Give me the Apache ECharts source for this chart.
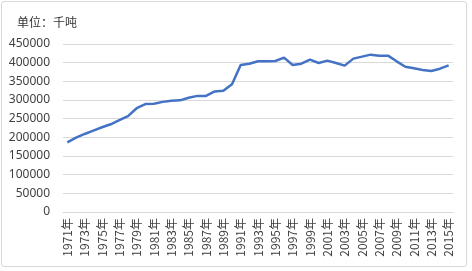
<!DOCTYPE html>
<html>
<head>
<meta charset="utf-8">
<script src="https://cdn.jsdelivr.net/npm/echarts@6/dist/echarts.min.js"></script>
<style>
  html, body { margin: 0; padding: 0; background: #fff; }
  #wrap { position: relative; width: 472px; height: 271px; }
  #frame { position: absolute; left: 1px; top: 1px; width: 466px; height: 266px;
           border: 1px solid #d9d9d9; border-radius: 3px; box-sizing: border-box; }
  #chart { position: absolute; left: 0; top: 0; width: 472px; height: 271px; }
</style>
</head>
<body>
<div id="wrap">
  <div id="frame"></div>
  <div id="chart"></div>
</div>
<script>
var years = [];
for (var y = 1971; y <= 2015; y++) years.push(y + '年');

var output = [
  186600, 199000, 209000, 218000, 227000, 235000, 246000, 257000, 278000, 289000,
  290000, 295000, 298000, 299000, 306000, 311000, 311000, 323000, 325000, 342000,
  394000, 397000, 403600, 404000, 404500, 413400, 393700, 397300, 408000, 399100,
  405400, 399100, 392000, 410800, 416100, 421500, 418800, 418800, 403600, 389200,
  384800, 380300, 377600, 383900, 392800
];

var unitText = '单位：千吨';

var myChart = echarts.init(document.getElementById('chart'));
var option = {
  animation: false,
  title: {
    text: unitText,
    left: 12,
    top: 11,
    textStyle: {
      fontFamily: 'Noto Sans CJK SC',
      fontSize: 12,
      fontWeight: 'normal',
      color: '#333'
    }
  },
  grid: {
    left: 63,
    right: 19,
    top: 44,
    bottom: 59
  },
  xAxis: {
    type: 'category',
    data: years,
    boundaryGap: true,
    axisLine: { lineStyle: { color: '#d9d9d9' } },
    axisTick: { show: false },
    axisLabel: {
      interval: 1,
      rotate: 90,
      margin: 6,
      fontSize: 12,
      color: '#404040',
      fontFamily: 'Noto Sans CJK SC'
    }
  },
  yAxis: {
    type: 'value',
    min: 0,
    max: 450000,
    interval: 50000,
    axisLine: { show: false },
    axisTick: { show: false },
    splitLine: { lineStyle: { color: '#d9d9d9', width: 1 } },
    axisLabel: {
      margin: 13,
      fontSize: 12,
      color: '#404040',
      fontFamily: 'Noto Sans',
      formatter: function (v) { return String(v); }
    }
  },
  series: [
    {
      type: 'line',
      data: output,
      showSymbol: false,
      lineStyle: { color: '#4472C4', width: 2.5 }
    }
  ]
};
myChart.setOption(option);
</script>
</body>
</html>
